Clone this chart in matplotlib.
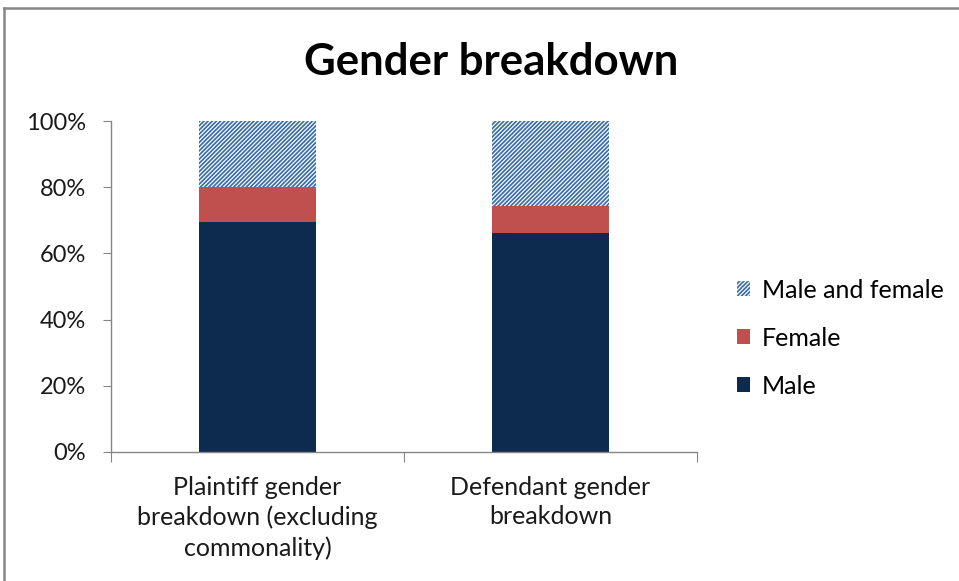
import matplotlib
matplotlib.use("Agg")
import matplotlib.pyplot as plt
from matplotlib.lines import Line2D
from matplotlib.ticker import PercentFormatter

# Chart data
categories = ["Plaintiff gender\nbreakdown (excluding\ncommonality)",
              "Defendant gender\nbreakdown"]
male = [0.695, 0.662]
female = [0.106, 0.081]
male_and_female = [1 - m - f for m, f in zip(male, female)]
y_ticks = [0, 0.2, 0.4, 0.6, 0.8, 1.0]

plt.rcParams['font.family'] = ['Lato', 'DejaVu Sans']
plt.rcParams['hatch.color'] = '#3A6DAA'
plt.rcParams['hatch.linewidth'] = 1.25

fig = plt.figure(figsize=(9.59, 5.81), dpi=100)
ax = fig.add_axes([111 / 959, 1 - 452 / 581, 586 / 959, 331 / 581])

x = range(len(categories))
width = 0.4
b_male = ax.bar(x, male, width, color='#0D2A4F', label='Male')
b_female = ax.bar(x, female, width, bottom=male, color='#C0504D', label='Female')
bottom2 = [m + f for m, f in zip(male, female)]
b_mf = ax.bar(x, male_and_female, width, bottom=bottom2, color='white',
              hatch='////////', linewidth=0, label='Male and female')

ax.set_xlim(-0.5, 1.5)
ax.set_ylim(0, 1)
ax.set_yticks(y_ticks)
ax.yaxis.set_major_formatter(PercentFormatter(1.0, decimals=0))
ax.set_xticks([-0.5, 0.5, 1.5], minor=False)
ax.set_xticklabels([])
ax.set_xticks(list(x), minor=True)
ax.set_xticklabels(categories, minor=True, fontsize=18, color='#1a1a1a',
                   linespacing=1.35)
ax.tick_params(axis='x', which='minor', length=0, pad=17)
ax.tick_params(axis='x', which='major', length=7, color='#868686', direction='out')
ax.tick_params(axis='y', length=6, color='#868686', labelsize=17, labelcolor='#1a1a1a', pad=12)

for side in ['top', 'right']:
    ax.spines[side].set_visible(False)
for side in ['left', 'bottom']:
    ax.spines[side].set_color('#868686')
    ax.spines[side].set_linewidth(1.0)

fig.text(491 / 959, 1 - 62 / 581, 'Gender breakdown', ha='center', va='center',
         fontsize=31.5, fontweight='bold', color='black')

handles = [b_mf, b_female, b_male]
leg = fig.legend(handles, [h.get_label() for h in handles],
                 loc='center left', bbox_to_anchor=(714 / 959, 1 - 338 / 581),
                 frameon=False, fontsize=18, handlelength=0.55, handleheight=0.55,
                 handletextpad=0.45, labelspacing=1.0)

# chart outer border (top and left edges visible)
fig.add_artist(Line2D([4 / 959, 1], [1 - 8 / 581, 1 - 8 / 581], transform=fig.transFigure,
                      color='#878787', linewidth=1.8))
fig.add_artist(Line2D([4 / 959, 4 / 959], [0, 1 - 8 / 581], transform=fig.transFigure,
                      color='#878787', linewidth=1.8))

fig.savefig('out.png', dpi=100)
